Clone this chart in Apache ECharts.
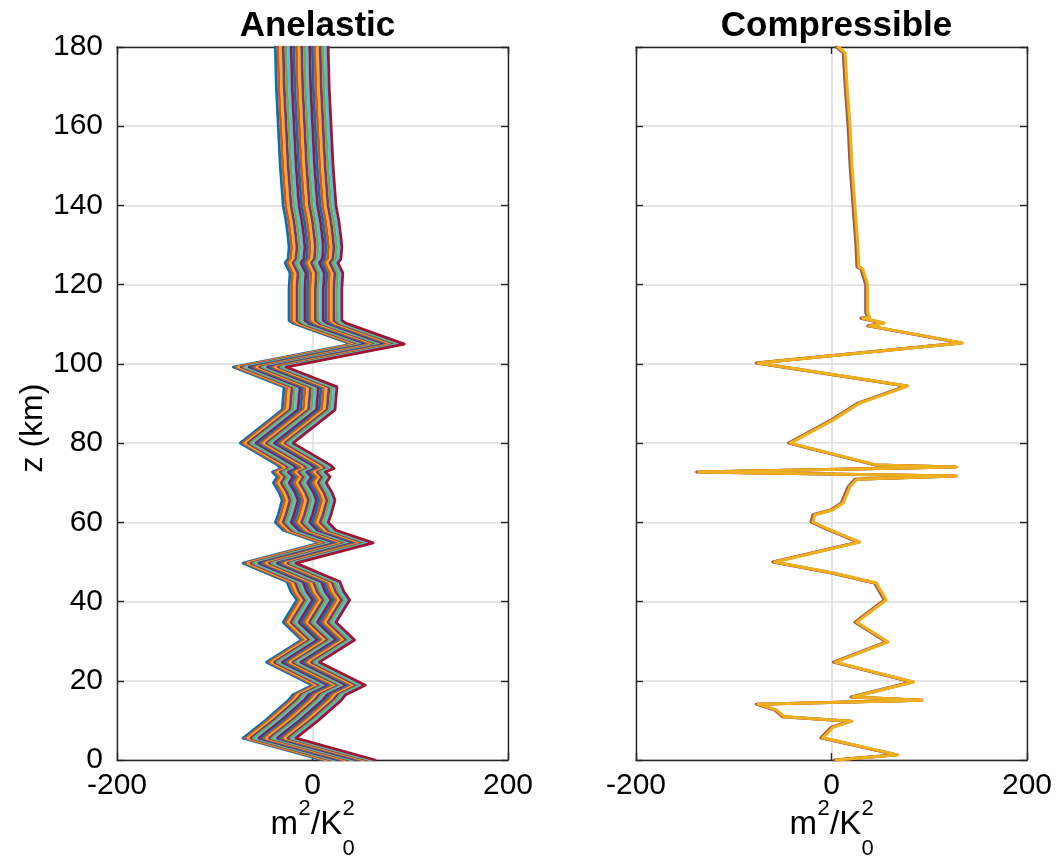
<!DOCTYPE html>
<html><head><meta charset="utf-8">
<script src="https://cdn.jsdelivr.net/npm/echarts@6/dist/echarts.min.js"></script>
<style>html,body{margin:0;padding:0;background:#fff}#c{width:1059px;height:861px}</style>
</head><body><div id="c"></div>
<script>
// ---- data ----
const titles = ['Anelastic', 'Compressible'];
const yTickValues = [0, 20, 40, 60, 80, 100, 120, 140, 160, 180];
const xTickValues = [-200, 0, 200];

// Anelastic: leftmost (first) profile; other profiles are the same curve shifted right
const anelasticZ = [180,170,160,150,140,136,132,129.5,126.5,125.5,124.5,123,119,115,111,110.3,105,99.2,94.2,88.4,80,74.5,73.6,72.7,71.5,70,67.5,65.6,62,60,58,54.8,49.7,45,42.5,40.4,34.8,30.3,24.7,18.9,16.5,15,10,5.5,0];
const anelasticX = [-38,-37,-35,-33,-30,-27,-25,-24,-25,-28,-26,-23,-24,-24,-24,-20,40,-81,-29,-31,-74,-36,-32,-41,-36,-40,-34,-31,-35,-38,-30,8,-71,-26,-22,-16,-30,-11,-47,0,-20,-25,-48,-71,10];
const anelasticOffsets = [0,2.7,5.4,8.1,10.8,13.5,16.2,18.9,21.6,24.3,27,29.7,32.4,35.1,37.8,40.5,43.2,45.9,48.6,51.3,54];

// Compressible profile
const compZ = [180,178.5,170,160,150,140,130,124.5,124,120,113,111.8,111.5,110.3,109.6,105.3,100.2,94.4,90.1,85.8,84.3,80,74.5,74,72.7,71.7,70.9,69,64.9,63.1,61.9,60.1,58.5,55,50,47.2,44.7,40.4,34.8,29.8,24.7,19.7,15.9,15.1,14.1,12.6,10.9,9.8,8.3,5.6,1.3,0];
const compX = [7,14,16,19,21,24,27,28,32,37,37,39,32,54,39,134,-75,78,29,1.5,-10,-42,46,128,-136,128,26,19,12,1,-17,-19,-5,29,-58,2,46,56,26,58,4,84,22,93,-75,-56,-48,21,2,-9,68,5];
const compOffsets = [-2, -1, 0];

const lineColors = ['#0072BD','#D95319','#EDB120','#7E2F8E','#77AC30','#4DBEEE','#A2142F'];
const compColors = ['#6a6a6a','#D95319','#EDB120'];

// ---- chart ----
const FONT = "'Liberation Sans', Arial, Helvetica, sans-serif";
const AX = '#262626';
const gridL = {left: 117, top: 47, width: 391, height: 713};
const gridR = {left: 636, top: 47, width: 391, height: 713};

function xAxisMain(gi) {
  return {type: 'value', gridIndex: gi, min: -200, max: 200, interval: 200, position: 'bottom',
    axisLine: {show: true, onZero: false, lineStyle: {color: AX, width: 1.4}},
    axisTick: {show: true, inside: true, length: 7, lineStyle: {color: AX, width: 1.4}},
    axisLabel: {show: true, color: '#000', fontSize: 30, fontFamily: FONT, margin: 11,
      formatter: v => xTickValues.includes(v) ? String(v) : ''},
    splitLine: {show: true, lineStyle: {color: '#dcdcdc', width: 1.5}}};
}
function xAxisTop(gi) {
  return {type: 'value', gridIndex: gi, min: -200, max: 200, interval: 200, position: 'top',
    axisLine: {show: true, onZero: false, lineStyle: {color: AX, width: 1.4}},
    axisTick: {show: true, inside: true, length: 7, lineStyle: {color: AX, width: 1.4}},
    axisLabel: {show: false}, splitLine: {show: false}};
}
function yAxisMain(gi, labels) {
  return {type: 'value', gridIndex: gi, min: 0, max: 180, interval: 20, position: 'left',
    axisLine: {show: true, onZero: false, lineStyle: {color: AX, width: 1.4}},
    axisTick: {show: true, inside: true, length: 7, lineStyle: {color: AX, width: 1.4}},
    axisLabel: {show: labels, color: '#000', fontSize: 30, fontFamily: FONT, margin: 14,
      formatter: v => yTickValues.includes(v) ? String(v) : ''},
    splitLine: {show: true, lineStyle: {color: '#dcdcdc', width: 1.5}}};
}
function yAxisRight(gi) {
  return {type: 'value', gridIndex: gi, min: 0, max: 180, interval: 20, position: 'right',
    axisLine: {show: true, onZero: false, lineStyle: {color: AX, width: 1.4}},
    axisTick: {show: true, inside: true, length: 7, lineStyle: {color: AX, width: 1.4}},
    axisLabel: {show: false}, splitLine: {show: false}};
}

const series = [];
anelasticOffsets.forEach((off, i) => {
  series.push({type: 'line', xAxisIndex: 0, yAxisIndex: 0, showSymbol: false, symbol: 'none',
    animation: false, silent: true,
    lineStyle: {color: lineColors[i % lineColors.length], width: 2.8, join: 'round', cap: 'round'},
    data: anelasticZ.map((z, k) => [anelasticX[k] + off, z])});
});
compOffsets.forEach((off, i) => {
  series.push({type: 'line', xAxisIndex: 2, yAxisIndex: 2, showSymbol: false, symbol: 'none',
    animation: false, silent: true,
    lineStyle: {color: compColors[i], width: 3, join: 'round', cap: 'round'},
    data: compZ.map((z, k) => [compX[k] + off, z])});
});

function unitLabel(cx) {
  const x0 = cx - 42;
  return {type: 'group', children: [
    {type: 'text', x: x0, y: 825, style: {text: 'm', font: `33px ${FONT}`, fill: '#000', textVerticalAlign: 'middle', textAlign: 'left'}},
    {type: 'text', x: x0 + 28, y: 809, style: {text: '2', font: `22px ${FONT}`, fill: '#000', textVerticalAlign: 'middle', textAlign: 'left'}},
    {type: 'text', x: x0 + 40.5, y: 825, style: {text: '/K', font: `33px ${FONT}`, fill: '#000', textVerticalAlign: 'middle', textAlign: 'left'}},
    {type: 'text', x: x0 + 72, y: 809, style: {text: '2', font: `22px ${FONT}`, fill: '#000', textVerticalAlign: 'middle', textAlign: 'left'}},
    {type: 'text', x: x0 + 72, y: 849, style: {text: '0', font: `22px ${FONT}`, fill: '#000', textVerticalAlign: 'middle', textAlign: 'left'}}
  ]};
}

const chart = echarts.init(document.getElementById('c'), null, {renderer: 'canvas'});
chart.setOption({
  backgroundColor: '#fff',
  animation: false,
  title: [
    {text: titles[0], left: 312.5, top: 4, textAlign: 'center', textStyle: {fontSize: 35, fontWeight: 'bold', color: '#000', fontFamily: FONT}},
    {text: titles[1], left: 831.5, top: 4, textAlign: 'center', textStyle: {fontSize: 35, fontWeight: 'bold', color: '#000', fontFamily: FONT}}
  ],
  grid: [gridL, gridR],
  xAxis: [xAxisMain(0), xAxisTop(0), xAxisMain(1), xAxisTop(1)],
  yAxis: [yAxisMain(0, true), yAxisRight(0), yAxisMain(1, false), yAxisRight(1)],
  series: series,
  graphic: [
    {type: 'text', x: 33, y: 428, rotation: Math.PI / 2,
      style: {text: 'z (km)', font: `32px ${FONT}`, fill: '#000', textAlign: 'center', textVerticalAlign: 'middle'}},
    unitLabel(312.5),
    unitLabel(831.5)
  ]
});
</script>
</body></html>
